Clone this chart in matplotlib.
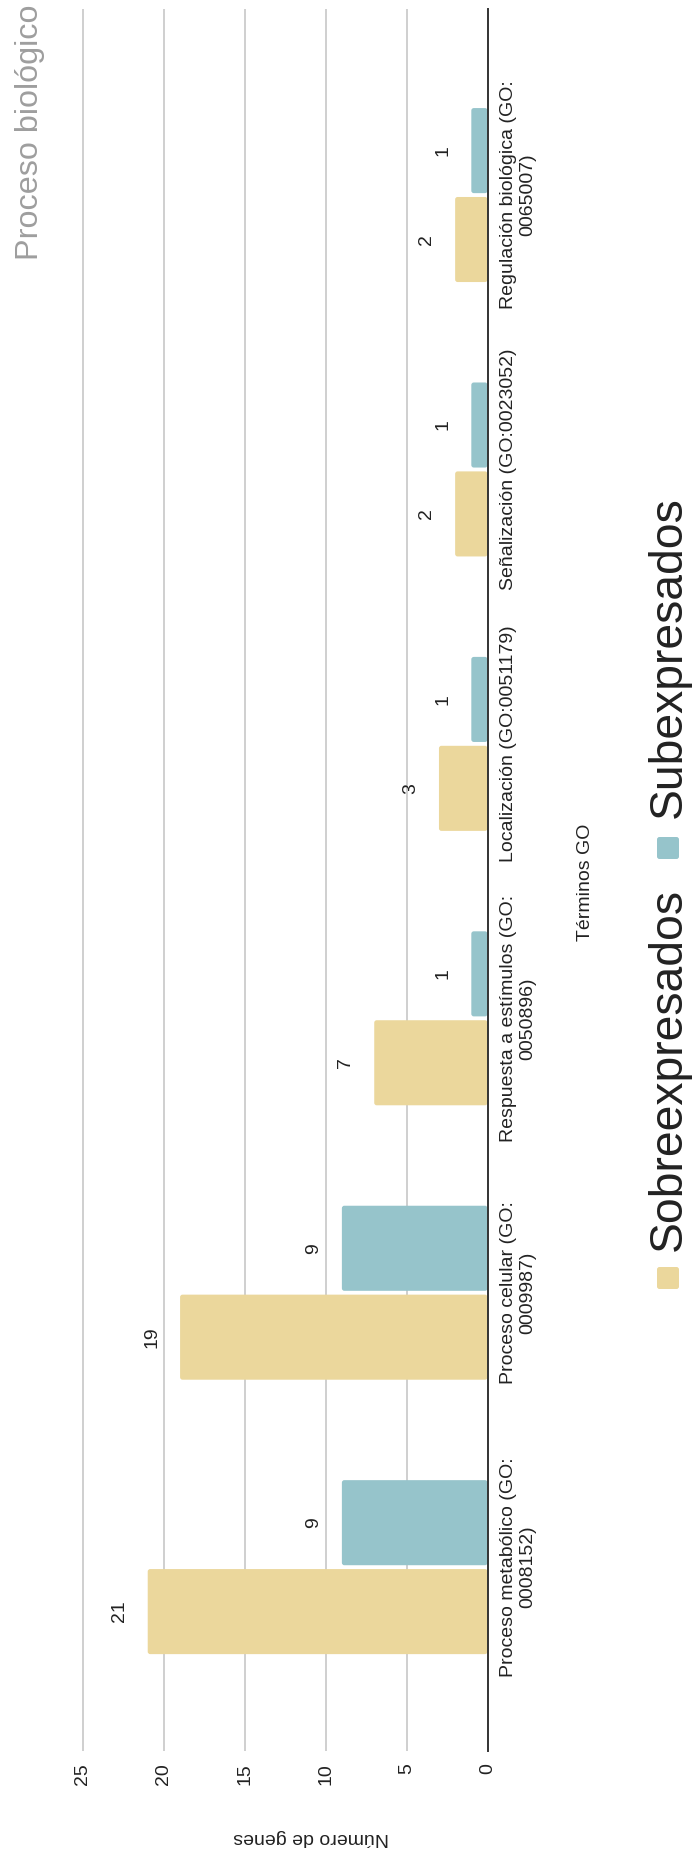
import matplotlib
matplotlib.use("Agg")
import matplotlib.pyplot as plt
from matplotlib.patches import FancyBboxPatch
from matplotlib.transforms import IdentityTransform
import numpy as np

# GO terms (biological process), first one drawn at the bottom
categories = [
    "Proceso metabólico (GO:\n0008152)",
    "Proceso celular (GO:\n0009987)",
    "Respuesta a estímulos (GO:\n0050896)",
    "Localización (GO:0051179)",
    "Señalización (GO:0023052)",
    "Regulación biológica (GO:\n0065007)",
]
sobreexpresados = [21, 19, 7, 3, 2, 2]
subexpresados = [9, 9, 1, 1, 1, 1]
value_ticks = [0, 5, 10, 15, 20, 25]
series_names = ["Sobreexpresados", "Subexpresados"]

TAN = "#EBD79C"
BLUE = "#96C4CB"
TEXT = "#222222"

W, H, DPI = 692, 1860, 100
plt.rcParams["font.family"] = ["Liberation Sans", "DejaVu Sans"]

fig = plt.figure(figsize=(W / DPI, H / DPI), dpi=DPI)
fig.patch.set_facecolor("white")


def fx(p):
    return p / W


def fy(p):
    return 1 - p / H


# plot area in pixels (the chart is laid out sideways: values grow to the left)
ax_left, ax_right, ax_top, ax_bottom = 81, 487.5, 9, 1751
px_per_unit = 16.18
ax = fig.add_axes([fx(ax_left), fy(ax_bottom),
                   (ax_right - ax_left) / W, (ax_bottom - ax_top) / H])
ax.set_xlim((ax_right - ax_left) / px_per_unit, 0)
y_lo, y_hi = -0.67, 5.678
ax.set_ylim(y_lo, y_hi)

y = np.arange(len(categories))
bar_h = 0.31
off = 0.162
bars_sobre = ax.barh(y - off, sobreexpresados, height=bar_h, color=TAN, zorder=2)
bars_sub = ax.barh(y + off, subexpresados, height=bar_h, color=BLUE, zorder=2)

# swap each bar for a copy with slightly rounded corners (~2.5 px)
y_px_per_unit = (ax_bottom - ax_top) / (y_hi - y_lo)
radius = 2.5 / px_per_unit
aspect = px_per_unit / y_px_per_unit
for rects in (bars_sobre, bars_sub):
    for r in rects:
        r.set_visible(False)
        ax.add_patch(FancyBboxPatch(
            (r.get_x(), r.get_y()), r.get_width(), r.get_height(),
            boxstyle=f"round,pad=0,rounding_size={radius}",
            mutation_aspect=aspect,
            facecolor=r.get_facecolor(), edgecolor="none", zorder=2))

ax.set_xticks(value_ticks)
ax.grid(axis="x", color="#cccccc", lw=1.3, zorder=0)
ax.set_axisbelow(True)
ax.axvline(0, color="#333333", lw=1.4, clip_on=False, zorder=3)
for s in ax.spines.values():
    s.set_visible(False)

ax.tick_params(axis="x", length=0, pad=8.6, labelsize=14,
               labelcolor=TEXT, labelrotation=90)
ax.yaxis.tick_right()
ax.set_yticks(y)
ax.set_yticklabels(categories, rotation=90, va="center", ha="left",
                   multialignment="center", fontsize=14, color=TEXT)
ax.tick_params(axis="y", length=0, pad=9)

# value annotations beyond the end of each bar
for rects, vals in ((bars_sobre, sobreexpresados), (bars_sub, subexpresados)):
    for r, v in zip(rects, vals):
        ax.annotate(str(v), xy=(v, r.get_y() + r.get_height() / 2),
                    xytext=(-14.4, 0), textcoords="offset points",
                    rotation=90, ha="right", va="center",
                    fontsize=14, color=TEXT)

# axis titles and chart title
fig.text(fx(311), fy(1837), "Número de genes", rotation=180,
         ha="center", va="center", fontsize=14, color=TEXT)
fig.text(fx(585), fy(882), "Términos GO", rotation=90,
         ha="center", va="center", fontsize=14, color=TEXT)
fig.text(fx(30), fy(4), "Proceso biológico", rotation=90,
         ha="center", va="top", fontsize=23.3, color="#9e9e9e")

# legend, drawn sideways
legend_items = [
    (series_names[0], TAN, 1267, 1251),
    (series_names[1], BLUE, 837, 818),
]
for name, color, marker_top, text_start in legend_items:
    fig.add_artist(FancyBboxPatch(
        (657, H - marker_top - 22), 22, 22,
        boxstyle="round,pad=0,rounding_size=2.5",
        facecolor=color, edgecolor="none", transform=IdentityTransform()))
    fig.text(fx(668.5), fy(text_start), name, rotation=90,
             ha="center", va="bottom", fontsize=33.3, color=TEXT)

fig.savefig("out.png", dpi=DPI, facecolor="white")
